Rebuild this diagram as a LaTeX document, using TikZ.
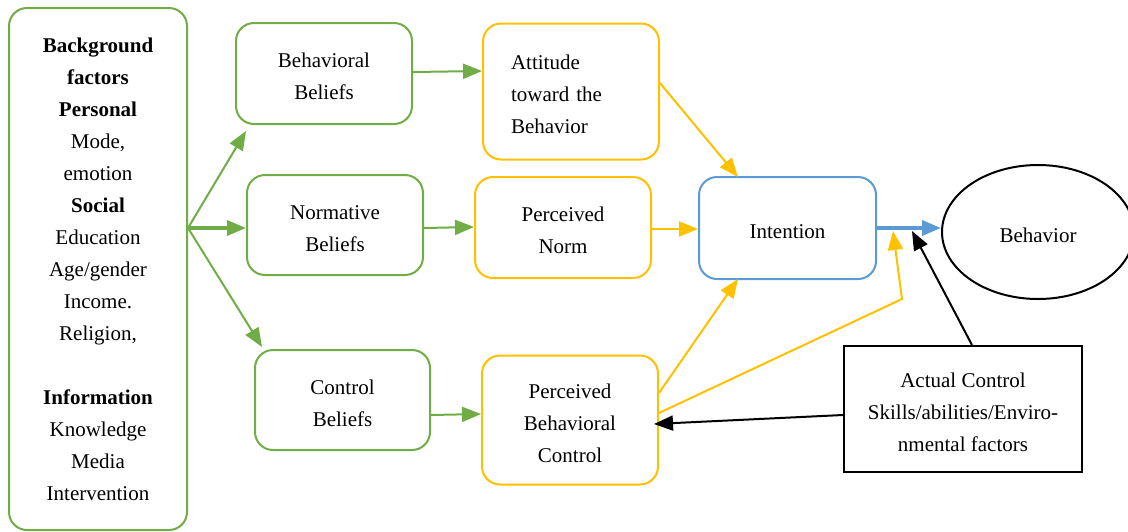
\documentclass[tikz,border=0pt]{standalone}
\usepackage{fontspec}
\setmainfont{Liberation Serif}
\usetikzlibrary{arrows.meta,shapes.geometric,calc}
\definecolor{cgreen}{HTML}{70AD47}
\definecolor{cyellow}{HTML}{FFC000}
\definecolor{cblue}{HTML}{5B9BD5}
\newcommand\myfirststrut{\rule{0pt}{21pt}}
\begin{document}
\begin{tikzpicture}[x=1pt,y=-1pt,
  font=\fontsize{21}{32}\selectfont,
  box/.style={draw, line width=2pt, rounded corners=18pt, align=center, inner sep=0pt},
  gbox/.style={box, draw=cgreen},
  ybox/.style={box, draw=cyellow},
  bbox/.style={box, draw=cblue},
  tip/.style={-{Triangle[length=19pt,width=15pt]}},
  garrow/.style={tip, draw=cgreen, line width=2pt},
  yarrow/.style={tip, draw=cyellow, line width=2pt},
  karrow/.style={tip, draw=black, line width=2pt},
]
\useasboundingbox (0,0) rectangle (1128,531);

% boxes
\node[gbox, minimum width=178pt, minimum height=522pt] (bg) at (98,269)
  {\textbf{Background}\\\textbf{factors}\\\textbf{Personal}\\Mode,\\emotion\\\textbf{Social}\\Education\\Age/gender\\Income.\\Religion,\\\mbox{}\\\textbf{Information}\\Knowledge\\Media\\Intervention};
\node[gbox, minimum width=176pt, minimum height=101pt] (bb) at (324,73.5) {\myfirststrut Behavioral\\Beliefs};
\node[gbox, minimum width=176pt, minimum height=100pt] (nb) at (335,225) {\myfirststrut Normative\\Beliefs};
\node[gbox, minimum width=175pt, minimum height=100pt] (cb) at (342.5,400) {\myfirststrut Control\\Beliefs};
\node[ybox, minimum width=176pt, minimum height=136pt, align=left, text width=120pt] (att) at (571,91.5) {\myfirststrut Attitude\\toward the\\Behavior};
\node[ybox, minimum width=176pt, minimum height=101pt] (pn) at (563,227.5) {\myfirststrut Perceived\\Norm};
\node[ybox, minimum width=176pt, minimum height=129pt] (pbc) at (570,420) {\myfirststrut Perceived\\Behavioral\\Control};
\node[bbox, minimum width=177pt, minimum height=102pt] (int) at (787.5,228) {\myfirststrut Intention};
\node[draw, ellipse, line width=2pt, minimum width=192pt, minimum height=134pt, inner sep=0pt] (beh) at (1038,232) {\myfirststrut Behavior};
\node[draw, line width=2pt, minimum width=238pt, minimum height=126pt, align=center, inner sep=0pt] (act) at (963,409)
  {\myfirststrut Actual Control\\Skills/abilities/Enviro-\\nmental factors};

% fan from background factors
\coordinate (src) at (188,228);
\draw[garrow] (src) -- ($(bb.south west)+(11,6)$);
\draw[garrow, line width=3.5pt] (src) -- (nb.west |- src);
\draw[garrow] (src) -- ($(cb.north west)+(8,-2)$);

% beliefs to perceptions
\draw[garrow] (bb.east |- 0,72) -- (att.west |- 0,71);
\draw[garrow] (nb.east |- 0,228) -- (pn.west |- 0,227);
\draw[garrow] (cb.east |- 0,415) -- (pbc.west |- 0,414);

% perceptions to intention
\draw[yarrow] (att.east |- 0,83) -- (738,177);
\draw[yarrow] (pn.east |- 0,229) -- (int.west |- 0,229);
\draw[yarrow] (pbc.east |- 0,393) -- (738,279);
\coordinate (bend) at (902,299);
\coordinate (ytip) at (893,231);
\draw[yarrow] (pbc.east |- 0,413) -- (bend) -- (ytip);

% intention to behavior
\draw[tip, draw=cblue, line width=3.5pt] (int.east |- 0,228) -- (beh.west |- 0,228);

% actual control
\coordinate (ktip) at (912,231);
\draw[karrow] ($(act.north)+(9,0)$) -- (ktip);
\draw[karrow] (act.west |- 0,415) -- ($(pbc.east |- 0,424)+(-5,0)$);
\end{tikzpicture}
\end{document}
